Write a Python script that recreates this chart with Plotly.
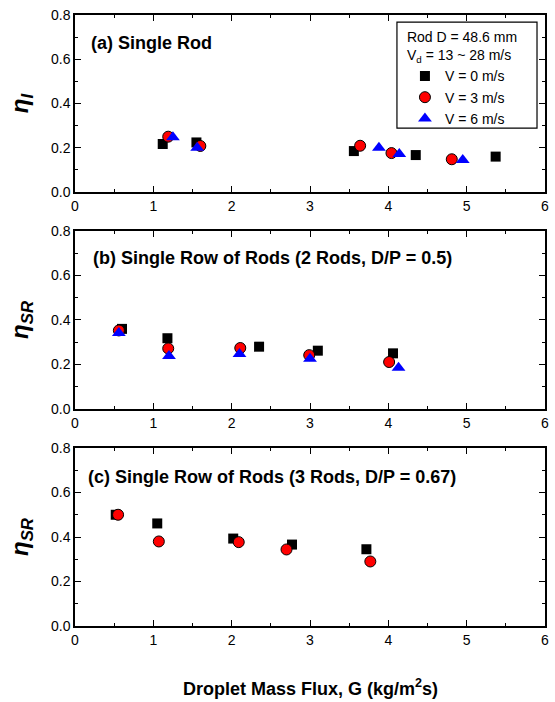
import plotly.graph_objects as go

# Panel (a) Single Rod
a_v0_x = [1.12, 1.55, 3.56, 4.35, 5.37]
a_v0_y = [0.217, 0.224, 0.185, 0.167, 0.160]
a_v3_x = [1.19, 1.60, 3.64, 4.04, 4.81]
a_v3_y = [0.250, 0.208, 0.209, 0.176, 0.148]
a_v6_x = [1.25, 1.56, 3.88, 4.14, 4.95]
a_v6_y = [0.247, 0.200, 0.200, 0.172, 0.145]

# Panel (b) 2 rods
b_v0_x = [0.60, 1.18, 2.35, 3.10, 4.06]
b_v0_y = [0.360, 0.318, 0.280, 0.262, 0.250]
b_v3_x = [0.56, 1.19, 2.11, 2.99, 4.01]
b_v3_y = [0.353, 0.272, 0.274, 0.242, 0.211]
b_v6_x = [0.56, 1.20, 2.10, 3.00, 4.13]
b_v6_y = [0.342, 0.238, 0.247, 0.226, 0.185]

# Panel (c) 3 rods
c_v0_x = [0.52, 1.05, 2.02, 2.77, 3.72]
c_v0_y = [0.500, 0.461, 0.393, 0.366, 0.345]
c_v3_x = [0.55, 1.07, 2.09, 2.70, 3.77]
c_v3_y = [0.500, 0.380, 0.377, 0.344, 0.290]

series_names = ["V = 0 m/s", "V = 3 m/s", "V = 6 m/s"]
panel_titles = ["(a) Single Rod",
                "(b) Single Row of Rods (2 Rods, D/P = 0.5)",
                "(c) Single Row of Rods (3 Rods, D/P = 0.67)"]
y_titles = ["<b><i>η</i><sub><i>I</i></sub></b>",
            "<b><i>η</i><sub><i>SR</i></sub></b>",
            "<b><i>η</i><sub><i>SR</i></sub></b>"]
x_title = "<b>Droplet Mass Flux, G (kg/m<sup>2</sup>s)</b>"

FONT = "Liberation Sans, Arial, sans-serif"

sq = dict(symbol="square", size=10, color="black", line=dict(width=0))
ci = dict(symbol="circle", size=11, color="red", line=dict(width=1, color="black"))
tr = dict(symbol="triangle-up", size=12, color="blue", line=dict(width=0))

fig = go.Figure()
panels = [
    ("x", "y", [(a_v0_x, a_v0_y, sq), (a_v3_x, a_v3_y, ci), (a_v6_x, a_v6_y, tr)]),
    ("x2", "y2", [(b_v0_x, b_v0_y, sq), (b_v3_x, b_v3_y, ci), (b_v6_x, b_v6_y, tr)]),
    ("x3", "y3", [(c_v0_x, c_v0_y, sq), (c_v3_x, c_v3_y, ci)]),
]
for pi, (xa, ya, series) in enumerate(panels):
    for si, (xs, ys, mk) in enumerate(series):
        fig.add_trace(go.Scatter(x=xs, y=ys, mode="markers", marker=mk,
                                 name=series_names[si], showlegend=(pi == 0),
                                 xaxis=xa, yaxis=ya))

domains = [[0.7103, 1.0], [0.3552, 0.6465], [0.0, 0.2913]]
axis_common = dict(showline=True, linecolor="black", linewidth=1.5, mirror="allticks",
                   ticks="inside", ticklen=6, tickwidth=1.2, tickcolor="black",
                   showgrid=False, zeroline=False, automargin=False,
                   ticklabeloverflow="allow",
                   tickfont=dict(family=FONT, size=14, color="black"))
layout = {}
for i in range(3):
    xk = "xaxis" if i == 0 else f"xaxis{i+1}"
    yk = "yaxis" if i == 0 else f"yaxis{i+1}"
    anchor_y = "y" if i == 0 else f"y{i+1}"
    anchor_x = "x" if i == 0 else f"x{i+1}"
    layout[xk] = dict(axis_common, domain=[0, 1], anchor=anchor_y, range=[0, 6],
                      dtick=1, tick0=0,
                      minor=dict(dtick=0.5, ticks="inside", ticklen=3, tickcolor="black", tickwidth=1.2))
    layout[yk] = dict(axis_common, domain=domains[i], anchor=anchor_x, range=[0, 0.8],
                      dtick=0.2, tick0=0, tickformat=".1f",
                      minor=dict(dtick=0.1, ticks="inside", ticklen=3, tickcolor="black", tickwidth=1.2),
                      title=dict(text=y_titles[i], font=dict(family=FONT, size=24, color="black"),
                                 standoff=16))
fig.update_layout(**layout)

ann_pos = [(0.03, 0.842), (0.035, 0.848), (0.024, 0.837)]
for i in range(3):
    xr = "x domain" if i == 0 else f"x{i+1} domain"
    yr = "y domain" if i == 0 else f"y{i+1} domain"
    fig.add_annotation(text="<b>" + panel_titles[i] + "</b>", xref=xr, yref=yr,
                       x=ann_pos[i][0], y=ann_pos[i][1], xanchor="left", yanchor="middle",
                       showarrow=False, font=dict(family=FONT, size=18, color="black"))

fig.add_annotation(text=x_title, xref="paper", yref="paper", x=0.5, y=-0.101,
                   xanchor="center", yanchor="middle", showarrow=False,
                   font=dict(family=FONT, size=18, color="black"))

# legend frame
fig.add_shape(type="rect", xref="paper", yref="paper", x0=0.685, x1=0.983, y0=0.815, y1=0.9885,
              line=dict(color="black", width=1.2), fillcolor="white", layer="below")

fig.update_layout(
    width=555, height=702,
    margin=dict(l=75, r=10, t=15, b=76, autoexpand=False),
    paper_bgcolor="white", plot_bgcolor="white",
    showlegend=True,
    legend=dict(x=0.702, y=0.9853, xanchor="left", yanchor="top",
                borderwidth=0, bgcolor="rgba(0,0,0,0)",
                font=dict(family=FONT, size=14, color="black"),
                title=dict(text="Rod D = 48.6 mm<br>V<sub>d</sub> = 13 ~ 28 m/s",
                           font=dict(family=FONT, size=14, color="black"), side="top"),
                tracegroupgap=0, itemsizing="trace"),
)

fig.write_html("out.html", config={"displayModeBar": False},
               post_script="document.body.style.margin='0';document.body.style.overflow='hidden';")
